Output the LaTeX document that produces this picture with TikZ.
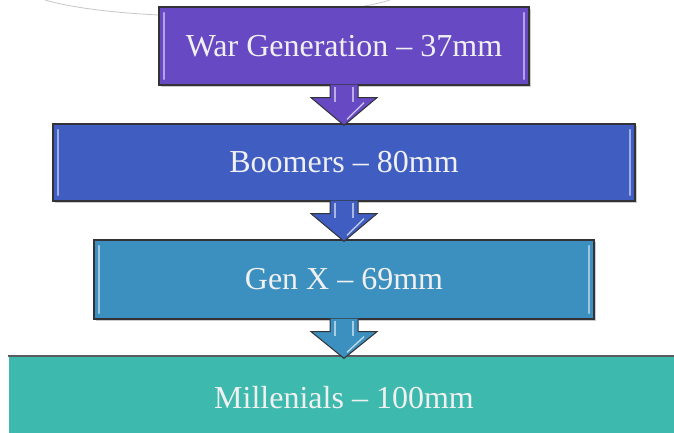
\documentclass[tikz,border=0pt]{standalone}
\usepackage{fontspec}
\setmainfont{Liberation Serif}
\usetikzlibrary{calc,shadows}
\definecolor{WarPurple}{RGB}{103,73,196}
\definecolor{BoomBlue}{RGB}{64,94,194}
\definecolor{GenXBlue}{RGB}{60,144,191}
\definecolor{MillTeal}{RGB}{61,185,173}
\definecolor{EdgeGray}{RGB}{50,50,55}
\tikzstyle{genbox} = [rectangle, inner sep=0pt, minimum height=78pt, text centered, draw=EdgeGray, line width=1.3pt, text=white!94!black, font=\fontsize{32}{38}\selectfont, drop shadow={opacity=0.4, shadow xshift=2pt, shadow yshift=-2.5pt}]
\tikzset{bevel/.style={path picture={
  \draw[#1!50!white, line width=2.2pt, line cap=round]
    ([xshift=5pt,yshift=-6pt]path picture bounding box.north west) -- ([xshift=5pt,yshift=6pt]path picture bounding box.south west);
  \draw[#1!50!white, line width=2.2pt, line cap=round]
    ([xshift=-5pt,yshift=-6pt]path picture bounding box.north east) -- ([xshift=-5pt,yshift=6pt]path picture bounding box.south east);}}}
\newcommand{\flowarrow}[3]{% from, to, colour
  \path[fill=#3, draw=EdgeGray, line width=1pt, line join=miter]
    ($(#1.south)+(-14,1)$) -- ($(#1.south)+(-14,-12)$) -- ($(#1.south)+(-33,-12)$)
    -- ($(#2.north)+(0,-2)$) -- ($(#1.south)+(33,-12)$) -- ($(#1.south)+(14,-12)$) -- ($(#1.south)+(14,1)$);
  \draw[#3!45!white, line width=1.6pt] ($(#1.south)+(-9,-1)$) -- ($(#1.south)+(-9,-16)$);
  \draw[#3!45!white, line width=1.6pt] ($(#1.south)+(9,-1)$) -- ($(#1.south)+(9,-16)$);
  \draw[#3!35!white, line width=1.4pt] ($(#1.south)+(20,-17)$) -- ($(#2.north)+(3,4)$);
}

\begin{document}
\begin{tikzpicture}[x=1pt, y=1pt]
\useasboundingbox[fill=white] (0,0) rectangle (674,433);

% Trait en arriere-plan
\draw[black!22, line width=0.8pt] (45,433) .. controls (120,411) and (320,411) .. (390,433);

% Generations
\node (war) [genbox, bevel=WarPurple, fill=WarPurple, minimum width=370pt] at (344,387) {War Generation -- 37mm};
\node (boomers) [genbox, bevel=BoomBlue, fill=BoomBlue, minimum width=582pt, minimum height=77pt] at (344,270.5) {Boomers -- 80mm};
\node (genx) [genbox, bevel=GenXBlue, fill=GenXBlue, minimum width=500pt, minimum height=79pt] at (344,153.5) {Gen X -- 69mm};
\node (mill) [genbox, draw=none, fill=MillTeal, minimum width=670pt, minimum height=82pt] at (344,35) {Millenials -- 100mm};
\draw[EdgeGray!80, line width=2pt] (mill.north west) -- (mill.north east);

% Fleches
\flowarrow{war}{boomers}{WarPurple}
\flowarrow{boomers}{genx}{BoomBlue}
\flowarrow{genx}{mill}{GenXBlue}

\end{tikzpicture}
\end{document}
